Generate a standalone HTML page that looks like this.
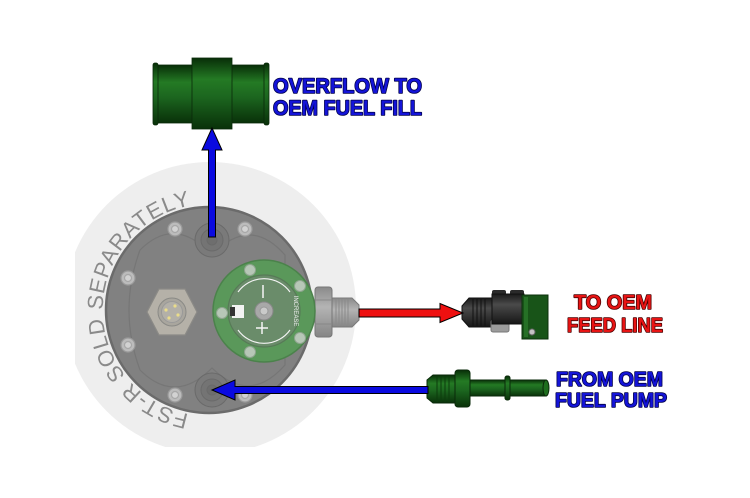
<!DOCTYPE html>
<html><head><meta charset="utf-8">
<style>
html,body{margin:0;padding:0;background:#fff;}
svg{display:block;}
text{font-family:"Liberation Sans",Arial,sans-serif;}
</style></head>
<body>
<svg width="750" height="498" viewBox="0 0 750 498" xmlns="http://www.w3.org/2000/svg">
<defs>
  <clipPath id="lc"><rect x="75" y="0" width="700" height="447"/></clipPath>
  <linearGradient id="gcyl" x1="0" y1="0" x2="0" y2="1">
    <stop offset="0" stop-color="#082e08"/>
    <stop offset="0.3" stop-color="#247a24"/>
    <stop offset="0.55" stop-color="#1c661f"/>
    <stop offset="1" stop-color="#093109"/>
  </linearGradient>
  <linearGradient id="gblk" x1="0" y1="0" x2="0" y2="1">
    <stop offset="0" stop-color="#1a1a1a"/>
    <stop offset="0.35" stop-color="#4a4a4a"/>
    <stop offset="1" stop-color="#161616"/>
  </linearGradient>
  <linearGradient id="ggrey" x1="0" y1="0" x2="0" y2="1">
    <stop offset="0" stop-color="#8a8a8a"/>
    <stop offset="0.4" stop-color="#b4b4b4"/>
    <stop offset="1" stop-color="#858585"/>
  </linearGradient>
</defs>

<!-- light background disc -->
<circle cx="210" cy="308" r="146" fill="#eeeeee" clip-path="url(#lc)"/>

<!-- curved text -->
<path id="arc" d="M188.8,414.1 A106,106 0 0 1 209,204" fill="none"/>
<text font-size="22" fill="#8a8a8a"><textPath href="#arc" textLength="294" lengthAdjust="spacing">FST-R SOLD SEPARATELY</textPath></text>

<!-- pump body -->
<circle cx="209" cy="310" r="103" fill="#818181" stroke="#6b6b6b" stroke-width="2.5"/>
<path d="M140,250 Q175,215 212,255 Q250,215 285,255 L285,365 Q250,405 212,368 Q175,405 140,370 Q118,310 140,250 Z" fill="none" stroke="#767676" stroke-width="1.2"/>

<!-- ports -->
<g fill="#7a7a7a" stroke="#6a6a6a" stroke-width="1">
  <circle cx="212" cy="240" r="17"/>
  <circle cx="212" cy="240" r="11" fill="#747474"/>
  <circle cx="212" cy="240" r="5" fill="#6e6e6e"/>
  <circle cx="212" cy="390" r="17"/>
  <circle cx="212" cy="390" r="11" fill="#747474"/>
  <circle cx="212" cy="390" r="5" fill="#6e6e6e"/>
</g>

<!-- bolts -->
<g stroke="#9a9a9a" stroke-width="1.2">
  <g fill="#bcbcbc">
    <circle cx="175" cy="229" r="7"/><circle cx="245" cy="229" r="7"/>
    <circle cx="128" cy="278" r="7"/><circle cx="128" cy="345" r="7"/>
    <circle cx="175" cy="395" r="7"/><circle cx="245" cy="395" r="7"/>
  </g>
  <g fill="#d2d2d2" stroke="#a8a8a8">
    <circle cx="175" cy="229" r="3.5"/><circle cx="245" cy="229" r="3.5"/>
    <circle cx="128" cy="278" r="3.5"/><circle cx="128" cy="345" r="3.5"/>
    <circle cx="175" cy="395" r="3.5"/><circle cx="245" cy="395" r="3.5"/>
  </g>
</g>

<!-- connector hex -->
<polygon points="147,312 159,289 185,289 197,312 185,335 159,335" fill="#b5b1a8" stroke="#8b8a86" stroke-width="1.2"/>
<circle cx="172" cy="312" r="14" fill="#a9a69e" stroke="#8a8a86"/>
<circle cx="172" cy="312" r="10.5" fill="#b3b0a8" stroke="#999"/>
<g fill="#eadc8a">
  <circle cx="166" cy="310" r="1.6"/><circle cx="175" cy="306" r="1.6"/>
  <circle cx="178" cy="315" r="1.6"/><circle cx="169" cy="318" r="1.6"/>
</g>

<!-- FST side fitting -->
<rect x="298" y="307" width="22" height="12" fill="#aaaaaa" stroke="#8a8a8a"/>
<path d="M332,298 L352,298 L359,305 L359,320 L352,327 L332,327 Z" fill="url(#ggrey)" stroke="#7a7a7a"/>
<g stroke="#8a8a8a" stroke-width="1">
  <line x1="336" y1="299" x2="336" y2="326"/><line x1="339" y1="299" x2="339" y2="326"/>
  <line x1="342" y1="299" x2="342" y2="326"/><line x1="345" y1="299" x2="345" y2="326"/>
  <line x1="348" y1="299" x2="348" y2="326"/>
</g>
<rect x="315" y="287" width="17" height="50" rx="3" fill="url(#ggrey)" stroke="#777"/>
<line x1="315" y1="300" x2="332" y2="300" stroke="#888"/>
<line x1="315" y1="324" x2="332" y2="324" stroke="#888"/>

<!-- green disc -->
<circle cx="264" cy="311" r="51" fill="#5a985a" stroke="#4b824b" stroke-width="1.5"/>
<circle cx="264" cy="311" r="36" fill="#6a8c6a" stroke="#577a57" stroke-width="1.2"/>
<g fill="none" stroke="#f4f4f4" stroke-width="1.1">
  <path d="M238,292 A32,32 0 0 1 290,292"/>
  <path d="M238,330 A32,32 0 0 0 290,330"/>
</g>
<line x1="263" y1="285" x2="263" y2="298" stroke="#f4f4f4" stroke-width="1.5"/>
<line x1="262" y1="322" x2="262" y2="334" stroke="#f4f4f4" stroke-width="1.5"/>
<line x1="256" y1="328" x2="268" y2="328" stroke="#f4f4f4" stroke-width="1.5"/>
<rect x="232" y="305" width="12" height="13" fill="#f2f2f2"/>
<rect x="230" y="307" width="5" height="9" fill="#333"/>
<circle cx="264" cy="311" r="9" fill="#a8a8a8" stroke="#888"/>
<circle cx="264" cy="311" r="4" fill="#cacaca" stroke="#999"/>
<g fill="#b7c7b7" stroke="#8fa58f">
  <circle cx="250" cy="270" r="5.5"/><circle cx="300" cy="286" r="5.5"/>
  <circle cx="222" cy="313" r="5.5"/><circle cx="300" cy="338" r="5.5"/>
  <circle cx="250" cy="352" r="5.5"/>
</g>
<text x="294" y="311" font-size="6" fill="#eee" transform="rotate(90 294 311)" text-anchor="middle">INCREASE</text>

<!-- top coupling -->
<rect x="155" y="65" width="38" height="58" fill="url(#gcyl)" stroke="#0a2a0a" stroke-width="0.8"/>
<rect x="153" y="63" width="5" height="62" rx="2" fill="url(#gcyl)" stroke="#0a2a0a" stroke-width="0.8"/>
<rect x="231" y="65" width="36" height="58" fill="url(#gcyl)" stroke="#0a2a0a" stroke-width="0.8"/>
<rect x="264" y="63" width="5" height="62" rx="2" fill="url(#gcyl)" stroke="#0a2a0a" stroke-width="0.8"/>
<rect x="192" y="58" width="40" height="71" fill="url(#gcyl)" stroke="#0a2a0a" stroke-width="0.8"/>

<!-- black fitting TO OEM -->
<path d="M462,306 L469,298 L493,298 L493,327 L469,327 L462,319 Z" fill="url(#gblk)" stroke="#111"/>
<g stroke="#111" stroke-width="1">
  <line x1="473" y1="299" x2="473" y2="326"/><line x1="477" y1="299" x2="477" y2="326"/>
  <line x1="481" y1="299" x2="481" y2="326"/><line x1="485" y1="299" x2="485" y2="326"/>
</g>
<rect x="491" y="320" width="18" height="12" rx="2" fill="#9c9c9c" stroke="#777"/>
<rect x="492" y="290" width="14" height="8" rx="2" fill="#2a2a2a"/>
<rect x="510" y="290" width="14" height="8" rx="2" fill="#2a2a2a"/>
<rect x="492" y="294" width="32" height="30" fill="url(#gblk)" stroke="#111"/>
<rect x="522" y="295" width="26" height="44" fill="#185418" stroke="#0b300b"/>
<rect x="524" y="297" width="4" height="40" fill="#267026"/>
<circle cx="532" cy="332" r="3" fill="#c4c4c4" stroke="#666"/>

<!-- green fitting FROM OEM -->
<path d="M427,380 L433,375 L456,375 L456,403 L433,403 L427,398 Z" fill="url(#gcyl)" stroke="#0a2a0a"/>
<g stroke="#0c3c0c" stroke-width="1">
  <line x1="437" y1="376" x2="437" y2="402"/><line x1="441" y1="376" x2="441" y2="402"/>
  <line x1="445" y1="376" x2="445" y2="402"/><line x1="449" y1="376" x2="449" y2="402"/>
</g>
<rect x="469" y="380" width="77" height="16" fill="url(#gcyl)" stroke="#0a2a0a"/>
<ellipse cx="546" cy="388" rx="3" ry="8" fill="#1e6e1e" stroke="#0a2a0a"/>
<rect x="505" y="376" width="5" height="24" rx="2" fill="url(#gcyl)" stroke="#0a2a0a"/>
<rect x="455" y="370" width="15" height="37" rx="3" fill="url(#gcyl)" stroke="#0a2a0a"/>

<!-- arrows -->
<polygon points="208.5,237 208.5,150 202,150 212,128 222,150 215.5,150 215.5,237" fill="#0a0ae0" stroke="#000" stroke-width="1"/>
<polygon points="428,386.5 235,386.5 235,380 212,390 235,400 235,393.5 428,393.5" fill="#0a0ae0" stroke="#000" stroke-width="1"/>
<polygon points="359,309 440,309 440,303.5 463,313 440,322.5 440,317 359,317" fill="#ee1010" stroke="#000" stroke-width="1"/>

<!-- labels -->
<g font-weight="bold" stroke-linejoin="round" paint-order="stroke" stroke-width="1.6">
  <text x="273" y="93" font-size="21" fill="#1414d8" stroke="#00004a" textLength="149" lengthAdjust="spacingAndGlyphs">OVERFLOW TO</text>
  <text x="273" y="115" font-size="21" fill="#1414d8" stroke="#00004a" textLength="149" lengthAdjust="spacingAndGlyphs">OEM FUEL FILL</text>
  <text x="574" y="309" font-size="20" fill="#e81414" stroke="#4a0000" textLength="78" lengthAdjust="spacingAndGlyphs">TO OEM</text>
  <text x="567" y="332" font-size="20" fill="#e81414" stroke="#4a0000" textLength="96" lengthAdjust="spacingAndGlyphs">FEED LINE</text>
  <text x="556" y="386" font-size="20" fill="#1414d8" stroke="#00004a" textLength="107" lengthAdjust="spacingAndGlyphs">FROM OEM</text>
  <text x="555" y="407" font-size="20" fill="#1414d8" stroke="#00004a" textLength="112" lengthAdjust="spacingAndGlyphs">FUEL PUMP</text>
</g>
</svg>
</body></html>
